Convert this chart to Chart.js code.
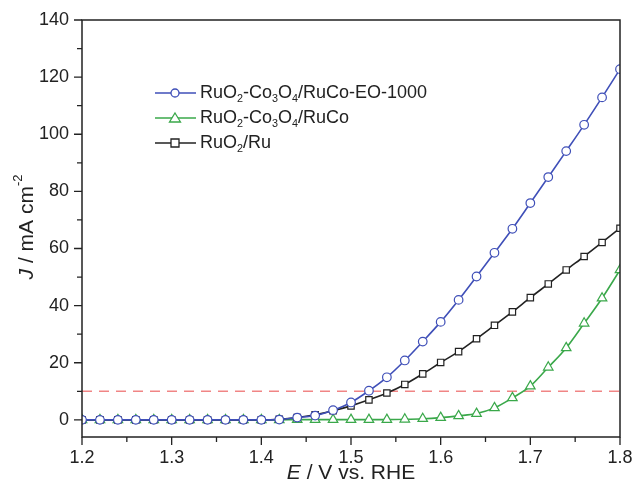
<!DOCTYPE html>
<html>
<head>
<meta charset="utf-8">
<script src="https://cdn.jsdelivr.net/npm/chart.js@4.4.0/dist/chart.umd.min.js"></script>
<style>
  html, body { margin: 0; padding: 0; background: #fff; }
  #wrap { width: 636px; height: 484px; }
</style>
</head>
<body>
<div id="wrap"><canvas id="lsv" width="636" height="484"></canvas></div>
<script>
// potential (V vs. RHE)
var potentials = [1.20, 1.22, 1.24, 1.26, 1.28, 1.30, 1.32, 1.34, 1.36, 1.38, 1.40,
                  1.42, 1.44, 1.46, 1.48, 1.50, 1.52, 1.54, 1.56, 1.58, 1.60,
                  1.62, 1.64, 1.66, 1.68, 1.70, 1.72, 1.74, 1.76, 1.78, 1.80];
// current density (mA cm-2)
var eo1000 = [0, 0, 0, 0, 0, 0, 0, 0, 0, 0, 0,
              0.1, 0.8, 1.5, 3.4, 6.1, 10.2, 14.9, 20.8, 27.4, 34.3,
              42.0, 50.2, 58.5, 66.9, 75.9, 85.0, 94.1, 103.3, 112.9, 122.8];
var ruco = [0, 0, 0, 0, 0, 0, 0, 0, 0, 0, 0,
            0, 0.1, 0.1, 0.1, 0.1, 0.1, 0.1, 0.2, 0.4, 0.8,
            1.4, 2.2, 4.2, 7.7, 11.8, 18.4, 25.2, 33.8, 42.6, 52.5];
var ru = [0, 0, 0, 0, 0, 0, 0, 0, 0, 0, 0,
          0.2, 0.8, 1.8, 3.2, 4.9, 7.0, 9.4, 12.4, 16.1, 20.1,
          23.9, 28.4, 33.1, 37.8, 42.8, 47.6, 52.5, 57.2, 62.1, 67.1];

var seriesLabels = ['RuO_2-Co_3O_4/RuCo-EO-1000', 'RuO_2-Co_3O_4/RuCo', 'RuO_2/Ru'];
var seriesColors = ['#3f4fb8', '#3aa84a', '#222222'];
var seriesMarkers = ['circle', 'triangle', 'rect'];

var xTicks = [1.2, 1.3, 1.4, 1.5, 1.6, 1.7, 1.8];
var yTicks = [0, 20, 40, 60, 80, 100, 120, 140];
var refLine = 10;

var FONT = '"Liberation Sans", Arial, sans-serif';

function toPoints(ys) {
    var pts = [];
    for (var i = 0; i < potentials.length; i++) {
        pts.push({x: potentials[i], y: ys[i]});
    }
    return pts;
}

// draw text where "_n" is a subscript
function drawRich(ctx, str, x, y, size) {
    var parts = str.split(/(_\d)/);
    for (var i = 0; i < parts.length; i++) {
        var p = parts[i];
        if (!p) continue;
        if (p.charAt(0) === '_') {
            ctx.font = (size * 0.6) + 'px ' + FONT;
            ctx.fillText(p.substr(1), x, y + size * 0.32);
            x += ctx.measureText(p.substr(1)).width;
        } else {
            ctx.font = size + 'px ' + FONT;
            ctx.fillText(p, x, y);
            x += ctx.measureText(p).width;
        }
    }
}

function drawMarker(ctx, type, x, y, color) {
    ctx.save();
    ctx.fillStyle = '#fff';
    ctx.strokeStyle = color;
    ctx.lineWidth = 1.3;
    ctx.beginPath();
    if (type === 'circle') {
        ctx.arc(x, y, 4, 0, Math.PI * 2);
    } else if (type === 'triangle') {
        ctx.moveTo(x, y - 5);
        ctx.lineTo(x + 5.5, y + 4);
        ctx.lineTo(x - 5.5, y + 4);
        ctx.closePath();
    } else {
        ctx.rect(x - 4, y - 4, 8, 8);
    }
    ctx.fill();
    ctx.stroke();
    ctx.restore();
}

var decorations = {
    id: 'decorations',
    beforeDatasetsDraw: function (chart) {
        var ctx = chart.ctx, a = chart.chartArea;
        var ys = chart.scales.y;
        var py = ys.getPixelForValue(refLine);
        ctx.save();
        ctx.strokeStyle = 'rgba(238,120,120,0.9)';
        ctx.lineWidth = 1.6;
        ctx.setLineDash([10, 7]);
        ctx.beginPath();
        ctx.moveTo(a.left, py);
        ctx.lineTo(a.right + 5, py);
        ctx.stroke();
        ctx.restore();
    },
    afterDraw: function (chart) {
        var ctx = chart.ctx, a = chart.chartArea;
        var xs = chart.scales.x, ys = chart.scales.y;
        ctx.save();
        // frame
        ctx.strokeStyle = '#222';
        ctx.lineWidth = 1.5;
        ctx.strokeRect(a.left, a.top, a.right - a.left, a.bottom - a.top);
        // ticks, outward
        ctx.lineWidth = 1.3;
        ctx.beginPath();
        for (var v = 0; v <= 140; v += 10) {
            var p = ys.getPixelForValue(v);
            var len = (v % 20 === 0) ? 8 : 5;
            ctx.moveTo(a.left, p);
            ctx.lineTo(a.left - len, p);
        }
        for (var k = 0; k <= 12; k++) {
            var px = xs.getPixelForValue(1.2 + k * 0.05);
            var l2 = (k % 2 === 0) ? 8 : 5;
            ctx.moveTo(px, a.bottom);
            ctx.lineTo(px, a.bottom + l2);
        }
        ctx.stroke();

        // axis titles
        ctx.fillStyle = '#222';
        ctx.textBaseline = 'alphabetic';
        var TS = 21;
        // x title
        var cx = (a.left + a.right) / 2;
        ctx.font = 'italic ' + TS + 'px ' + FONT;
        var w1 = ctx.measureText('E').width;
        ctx.font = TS + 'px ' + FONT;
        var w2 = ctx.measureText(' / V vs. RHE').width;
        var sx = cx - (w1 + w2) / 2;
        ctx.font = 'italic ' + TS + 'px ' + FONT;
        ctx.fillText('E', sx, 479);
        ctx.font = TS + 'px ' + FONT;
        ctx.fillText(' / V vs. RHE', sx + w1, 479);
        // y title
        ctx.save();
        ctx.translate(33, 227);
        ctx.rotate(-Math.PI / 2);
        ctx.font = 'italic ' + TS + 'px ' + FONT;
        var j1 = ctx.measureText('J').width;
        ctx.font = TS + 'px ' + FONT;
        var j2 = ctx.measureText(' / mA cm').width;
        ctx.font = '13px ' + FONT;
        var j3 = ctx.measureText('-2').width;
        var ox = -(j1 + j2 + j3) / 2;
        ctx.font = 'italic ' + TS + 'px ' + FONT;
        ctx.fillText('J', ox, 0);
        ctx.font = TS + 'px ' + FONT;
        ctx.fillText(' / mA cm', ox + j1, 0);
        ctx.font = '13px ' + FONT;
        ctx.fillText('-2', ox + j1 + j2, -11);
        ctx.restore();

        // legend
        var lx = 155, ly = 93;
        for (var i = 0; i < seriesLabels.length; i++) {
            var yy = ly + i * 25;
            ctx.strokeStyle = seriesColors[i];
            ctx.lineWidth = 1.6;
            ctx.beginPath();
            ctx.moveTo(lx, yy);
            ctx.lineTo(lx + 41, yy);
            ctx.stroke();
            drawMarker(ctx, seriesMarkers[i], lx + 20, yy, seriesColors[i]);
            ctx.fillStyle = '#222';
            ctx.textBaseline = 'middle';
            drawRich(ctx, seriesLabels[i], lx + 45, yy, 18);
        }
        ctx.restore();
    }
};

function makeDataset(idx, ys, order) {
    return {
        label: seriesLabels[idx].replace(/_/g, ''),
        data: toPoints(ys),
        borderColor: seriesColors[idx],
        borderWidth: 1.6,
        pointStyle: seriesMarkers[idx],
        pointRadius: seriesMarkers[idx] === 'triangle' ? 5.5 : (seriesMarkers[idx] === 'rect' ? 4.5 : 4.3),
        pointBorderWidth: 1.2,
        pointBackgroundColor: '#fff',
        pointBorderColor: seriesColors[idx],
        cubicInterpolationMode: 'monotone',
        fill: false,
        order: order
    };
}

var lsvChart = new Chart(document.getElementById('lsv').getContext('2d'), {
    type: 'line',
    data: {
        datasets: [
            makeDataset(0, eo1000, 0),
            makeDataset(1, ruco, 2),
            makeDataset(2, ru, 1)
        ]
    },
    options: {
        responsive: false,
        animation: false,
        layout: {padding: {top: 20, right: 16, left: 0, bottom: 0}},
        plugins: {legend: {display: false}, tooltip: {enabled: false}},
        scales: {
            x: {
                type: 'linear',
                min: 1.2,
                max: 1.8,
                afterBuildTicks: function (scale) {
                    scale.ticks = xTicks.map(function (v) { return {value: v}; });
                },
                afterFit: function (scale) {
                    scale.height = 47;
                    scale.paddingLeft = 0;
                    scale.paddingRight = 0;
                },
                grid: {display: false, drawTicks: false},
                border: {display: false},
                ticks: {
                    padding: 10,
                    color: '#222',
                    font: {family: FONT, size: 18},
                    callback: function (v) { return v.toFixed(1); }
                }
            },
            y: {
                min: -6,
                max: 140,
                afterBuildTicks: function (scale) {
                    scale.ticks = yTicks.map(function (v) { return {value: v}; });
                },
                afterFit: function (scale) {
                    scale.width = 82;
                    scale.paddingTop = 0;
                    scale.paddingBottom = 0;
                },
                grid: {display: false, drawTicks: false},
                border: {display: false},
                ticks: {
                    padding: 13,
                    color: '#222',
                    font: {family: FONT, size: 18}
                }
            }
        }
    },
    plugins: [decorations]
});
</script>
</body>
</html>
